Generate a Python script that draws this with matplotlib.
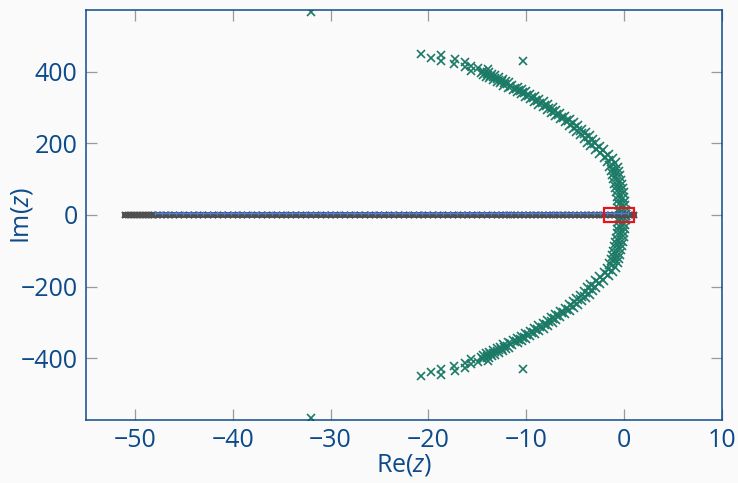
import numpy as np
import matplotlib.pyplot as plt
from matplotlib.patches import Rectangle

plt.rcParams['font.family'] = ['Open Sans', 'DejaVu Sans']
plt.rcParams['mathtext.fontset'] = 'custom'
plt.rcParams['mathtext.it'] = 'Open Sans:italic'
plt.rcParams['mathtext.rm'] = 'Open Sans'

# eigenvalues on the parabola (upper half, lower half is the conjugate)
# outer row of the dense band
green_re = [0.1, 0.1, 0.05, 0.0, -0.05, -0.12, -0.2, -0.3, -0.4, -0.5,
            -0.6, -0.75, -0.95, -1.2, -1.6, -2.1, -2.6, -3.0, -3.3, -3.6,
            -4.0, -4.4, -4.8, -5.2, -5.6, -6.1, -6.6, -7.0, -7.4, -7.9,
            -8.3, -8.8, -9.2, -9.7, -10.1, -10.5, -10.9, -11.5, -11.9, -12.2,
            -12.5, -12.9, -13.3, -13.6, -13.9]
green_im = [0, 12, 24, 36, 48, 60, 72, 84, 96, 108,
            120, 132, 144, 156, 168, 180, 190, 200, 210, 220,
            229, 238, 247, 256, 265, 274, 283, 291, 299, 307,
            315, 322, 329, 336, 343, 349, 355, 361, 367, 372,
            377, 382, 387, 391, 395]
# inner row of the dense band
green2_re = [-0.45, -0.47, -0.52, -0.58, -0.63, -0.71, -0.8, -0.9, -1.0, -1.1,
             -1.23, -1.4, -1.63, -1.95, -2.4, -2.9, -3.35, -3.7, -4.0, -4.35,
             -4.75, -5.15, -5.55, -5.95, -6.4, -6.9, -7.35, -7.75, -8.2, -8.65,
             -9.1, -9.55, -10.0, -10.45, -10.85, -11.25, -11.75, -12.25, -12.6,
             -12.9, -13.25, -13.65, -14.0, -14.3]
green2_im = [6, 18, 30, 42, 54, 66, 78, 90, 102, 114,
             126, 138, 150, 162, 174, 185, 195, 205, 215, 225,
             234, 243, 252, 261, 270, 279, 287, 295, 303, 311,
             319, 326, 333, 340, 346, 352, 358, 364, 370,
             375, 380, 385, 389, 393]
# scattered tail and outliers
tail_re = [-14.4, -14.6, -14.9, -15.6, -15.6, -16.2, -16.2, -17.3, -17.4,
           -18.7, -18.7, -19.7, -20.7, -13.9, -10.3, -32.0]
tail_im = [401, 396, 410, 415, 401, 427, 412, 436, 422,
           446, 429, 439, 449, 407, 429, 566]

# real eigenvalues (gray)
gray_re = [-51.0, -50.7, -50.4, -50.1, -49.8, -49.5, -49.2, -48.9, -48.6, -48.3,
           -48.0, -47.6, -47.2, -46.8, -46.4, -46.0, -45.5, -45.0, -44.5, -44.0,
           -43.5, -43.0, -42.5, -42.0, -41.5, -41.0, -40.5, -40.0, -39.5, -39.0,
           -38.5, -38.0, -37.5, -37.0, -36.5, -36.0, -35.5, -35.0, -34.5, -34.0,
           -33.5, -33.0, -32.5, -32.0, -31.5, -31.0, -30.5, -30.0, -29.5, -29.0,
           -28.5, -28.0, -27.5, -27.0, -26.5, -26.0, -25.5, -25.0, -24.5, -24.0,
           -23.5, -23.0, -22.5, -22.0, -21.5, -21.0, -20.5, -20.0, -19.5, -19.0,
           -18.5, -18.0, -17.5, -17.0, -16.5, -16.0, -15.5, -15.0, -14.5, -14.0,
           -13.5, -13.0, -12.6, -12.2, -11.8, -11.4, -11.0, -10.6, -10.2, -9.8,
           -9.4, -9.0, -8.6, -8.2, -7.8, -7.4, -7.0, -6.6, -6.2, -5.8,
           -5.4, -5.0, -4.6, -4.2, -3.8, -3.4, -3.0, -2.6, -2.2, -1.8,
           -1.4, -1.0, -0.6, -0.2, 0.2, 0.6, 1.0]

# second set on the real axis (blue)
blue_re = [-47.9, -47.2, -46.5, -45.8, -45.1, -44.4, -43.7, -43.0, -42.3, -41.6,
           -40.9, -40.2, -39.5, -38.8, -38.1, -37.4, -36.7, -36.0, -35.3, -34.6,
           -33.9, -33.2, -32.5, -31.8, -31.1, -30.4, -29.7, -29.0, -28.3, -27.6,
           -26.9, -26.2, -25.5, -24.8, -24.1, -23.4, -22.7, -22.0, -21.3, -20.6,
           -19.9, -19.2, -18.5, -17.8, -17.1, -16.4, -15.7, -15.0, -14.3, -13.6,
           -12.9, -12.2, -11.5, -10.8, -10.1, -9.4, -8.7, -8.0, -7.3, -6.6,
           -5.9, -5.2, -4.5, -3.8, -3.1, -2.4, -1.7, -1.0, -0.3, 0.4]
blue_im = 6

box_re = (-2, 1)
box_im = (-20, 20)

green = '#1b7a66'
gray = '#4f4f4f'
blue = '#4a7fe6'
navy = '#0d4a8a'
bg = '#fafafa'

fig = plt.figure(figsize=(7.38, 4.83), dpi=100, facecolor=bg)
ax = fig.add_axes([0.1165, 0.1304, 0.8615, 0.8490], facecolor=bg)

for re, im, ms in [(green_re, green_im, 6.8), (green2_re, green2_im, 6.8),
                   (tail_re, tail_im, 5.2)]:
    re = np.array(re)
    im = np.array(im)
    ax.plot(re, im, 'x', color=green, ms=ms, mew=1.2)
    ax.plot(re, -im, 'x', color=green, ms=ms, mew=1.2)

ax.plot(gray_re, np.zeros(len(gray_re)), '-', color=gray, lw=4.2,
        marker='x', ms=5, mew=1.5)
ax.plot(blue_re, np.full(len(blue_re), blue_im), '-', color=blue, lw=1.0,
        marker='|', ms=3.5, mew=0.9)

ax.add_patch(Rectangle((box_re[0], box_im[0]), box_re[1] - box_re[0],
                       box_im[1] - box_im[0], fill=False, ec='#e8141b', lw=1.6,
                       zorder=5))

ax.set_xlim(-55, 10)
ax.set_ylim(-572, 572)
ax.set_xticks([-50, -40, -30, -20, -10, 0, 10])
ax.set_yticks([-400, -200, 0, 200, 400])

for s in ax.spines.values():
    s.set_color(navy)
    s.set_linewidth(1.1)
ax.tick_params(direction='in', length=8, width=0.9, color='#9a9a9a',
               labelcolor=navy, labelsize=18, pad=6,
               top=True, right=True)

ax.set_xlabel('Re($z$)', color=navy, fontsize=18, labelpad=-1)
ax.set_ylabel('Im($z$)', color=navy, fontsize=18)
ax.yaxis.set_label_coords(-0.08, 0.5)

fig.savefig('out.png', dpi=100, facecolor=bg)
